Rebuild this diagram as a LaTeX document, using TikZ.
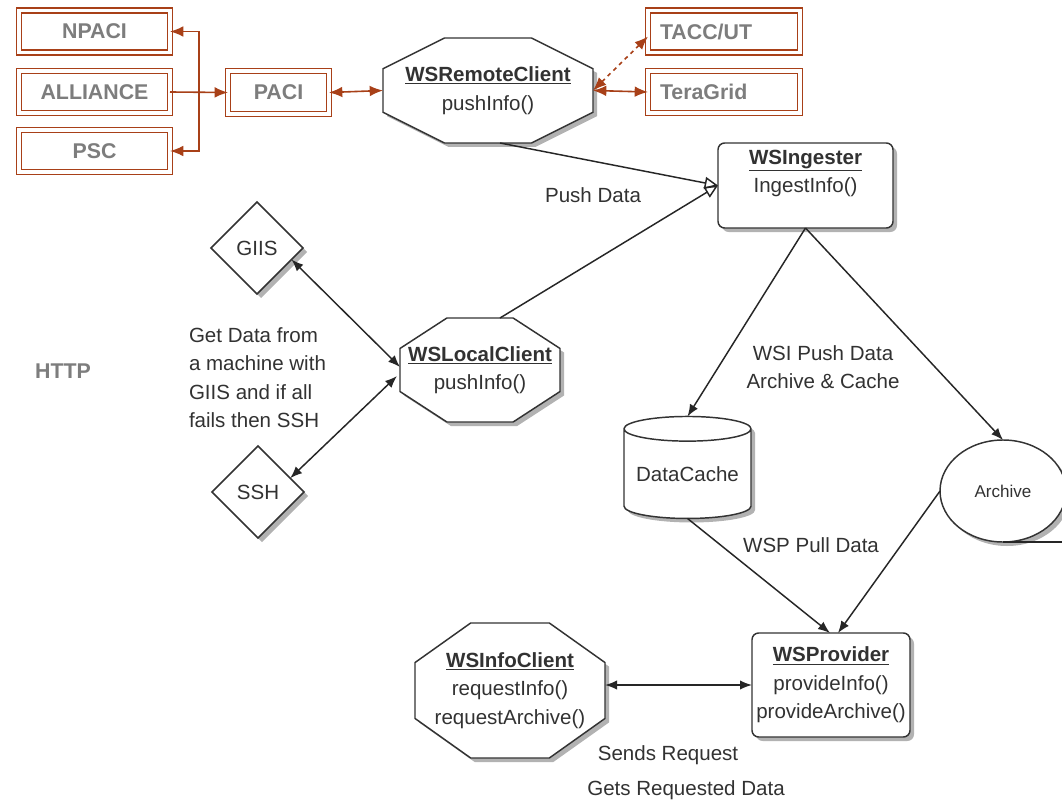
\documentclass[tikz,border=0pt]{standalone}
\usepackage{fontspec}
\setmainfont{Liberation Sans}
\usetikzlibrary{arrows.meta,shadows,calc,shapes.geometric}
\definecolor{brn}{RGB}{168,64,24}
\definecolor{gtx}{RGB}{125,125,125}
\definecolor{dtx}{RGB}{50,50,50}
\newcommand\octshape[5]{%
  \draw[#5] ({#1-#3/2},{#2-#4/2+0.293*#4}) -- ({#1-#3/2+0.293*#3},{#2-#4/2}) -- ({#1+#3/2-0.293*#3},{#2-#4/2}) -- ({#1+#3/2},{#2-#4/2+0.293*#4}) -- ({#1+#3/2},{#2+#4/2-0.293*#4}) -- ({#1+#3/2-0.293*#3},{#2+#4/2}) -- ({#1-#3/2+0.293*#3},{#2+#4/2}) -- ({#1-#3/2},{#2+#4/2-0.293*#4}) -- cycle;}
\begin{document}
\begin{tikzpicture}[x=0.75pt,y=-0.75pt,
  every node/.style={inner sep=0pt, outer sep=0pt},
  lbl/.style={font=\fontsize{15.4}{21.4}\selectfont, text=dtx, align=center},
  frm/.style={draw=brn, line width=1.2pt, double=white, double distance=2.4pt,
    font=\fontsize{16}{19}\selectfont\bfseries, text=gtx},
  shd/.style={drop shadow={shadow xshift=3pt, shadow yshift=-3pt, opacity=0.3, fill=black}},
  octo/.style={draw=black!80, line width=1.1pt, fill=white, shd},
  shp/.style={draw=black!80, line width=1.1pt, fill=white, shd},
  con/.style={draw=black!85, line width=1.1pt},
  tipend/.style={-{Latex[length=9pt,width=7pt]}},
  twotip/.style={{Latex[length=9pt,width=7pt]}-{Latex[length=9pt,width=7pt]}},
  opentip/.style={-{Triangle[open,length=10pt,width=9pt]}},
  bline/.style={draw=brn, line width=1.2pt},
  btip/.style={-{Latex[length=10pt,width=8pt]}},
  btwo/.style={{Latex[length=10pt,width=8pt]}-{Latex[length=10pt,width=8pt]}}
]
\useasboundingbox (0,0) rectangle (1062,802);
\fill[white] (0,0) rectangle (1062,802);

% brown frame boxes
\node[frm, minimum width=151*0.75, minimum height=42*0.75] (npaci) at (94.5,31.5) {NPACI};
\node[frm, minimum width=151*0.75, minimum height=42*0.75] (alliance) at (94.5,92) {ALLIANCE};
\node[frm, minimum width=151*0.75, minimum height=42*0.75] (psc) at (94.5,151) {PSC};
\node[frm, minimum width=101*0.75, minimum height=43*0.75] (paci) at (278.5,92.5) {PACI};
\node[frm, minimum width=152*0.75, minimum height=42*0.75, text width=128*0.75, align=left] (tacc) at (724,31.5) {TACC/UT};
\node[frm, minimum width=152*0.75, minimum height=42*0.75, text width=128*0.75, align=left] (teragrid) at (724,92) {TeraGrid};

% octagons
\octshape{488}{90.5}{210}{105}{octo}
\node[lbl, minimum width=210*0.75, minimum height=105*0.75] (rc) at (488,90.5) {\underline{\textbf{WSRemoteClient}}\\pushInfo()};
\octshape{480}{370}{160}{104}{octo}
\node[lbl, minimum width=160*0.75, minimum height=104*0.75] (lc) at (480,370) {\underline{\textbf{WSLocalClient}}\\pushInfo()};
\octshape{510}{690.5}{190}{135}{octo}
\node[lbl, minimum width=190*0.75, minimum height=135*0.75] (ic) at (510,690.5) {\underline{\textbf{WSInfoClient}}\\requestInfo()\\requestArchive()};

% rounded boxes
\node[shp, rounded corners=5pt, minimum width=175*0.75, minimum height=85*0.75, lbl] (ing) at (805.5,185.5) {\underline{\textbf{WSIngester}}\\IngestInfo()\\\mbox{}};
\node[shp, rounded corners=5pt, minimum width=158*0.75, minimum height=104*0.75, lbl] (prov) at (831,685) {\underline{\textbf{WSProvider}}\\provideInfo()\\provideArchive()};

% diamonds
\node[shp, diamond, aspect=1, minimum width=92*0.75, minimum height=92*0.75, lbl] (giis) at (257,248) {GIIS};
\node[shp, diamond, aspect=1, minimum width=92*0.75, minimum height=92*0.75, lbl] (ssh) at (258,492) {SSH};

% storage
\node[shp, cylinder, shape border rotate=90, aspect=0.24, minimum width=127*0.75, minimum height=102*0.75, lbl] (dc) at (687.5,474) {DataCache};
\coordinate (re) at (1075,0);
\node[shp, ellipse, minimum width=126*0.75, minimum height=102*0.75, lbl, font=\fontsize{12.8}{15}\selectfont] (arch) at (1003,491) {Archive};
\draw[con] (arch.south) -- (arch.south -| re);

% labels
\node[lbl] (lpush) at (593,195) {Push Data};
\node[lbl] (lwsi) at (823,367) {WSI Push Data\\Archive \& Cache};
\node[lbl] (lwsp) at (811,545) {WSP Pull Data};
\node[lbl] (lsend) at (668,755) {Sends Request};
\node[lbl] (lgets) at (686,790) {Gets Requested Data};
\node[lbl, align=left, anchor=west] (lget) at (189,377.5) {Get Data from\\a machine with\\GIIS and if all\\fails then SSH};
\node[font=\fontsize{16}{19}\selectfont\bfseries, text=gtx] (http) at (63,371) {HTTP};

% brown connectors
\coordinate (jn) at (199,92);
\draw[bline, btip] (alliance.east) -- (paci.west);
\draw[bline, btip] (jn) |- (npaci.east);
\draw[bline, btip] (jn) |- (psc.east);
\draw[bline, btwo] (paci.east) -- (rc.west);
\draw[bline, btwo, dashed] (rc.east) -- ($(tacc.west)+(0,5)$);
\draw[bline, btwo] (rc.east) -- (teragrid.west);

% black connectors
\draw[con, opentip] ($(rc.south)+(12,0)$) -- (ing.west);
\draw[con, opentip] ($(lc.north)+(20,0)$) -- (ing.west);
\draw[con, twotip] ($(giis.east)!0.25!(giis.south)$) -- ($(lc.west)+(0,-3)$);
\draw[con, twotip] ($(ssh.east)!0.3!(ssh.north)$) -- ($(lc.west)+(-3,6)$);
\draw[con, tipend] (ing.south) -- (dc.north);
\draw[con, tipend] (ing.south) -- (arch.north);
\draw[con, tipend] (dc.south) -- ($(prov.north)+(-1,0)$);
\draw[con, tipend] (arch.west) -- ($(prov.north)+(7,0)$);
\draw[con, twotip] (ic.east |- prov.west) -- (prov.west);
\end{tikzpicture}
\end{document}
